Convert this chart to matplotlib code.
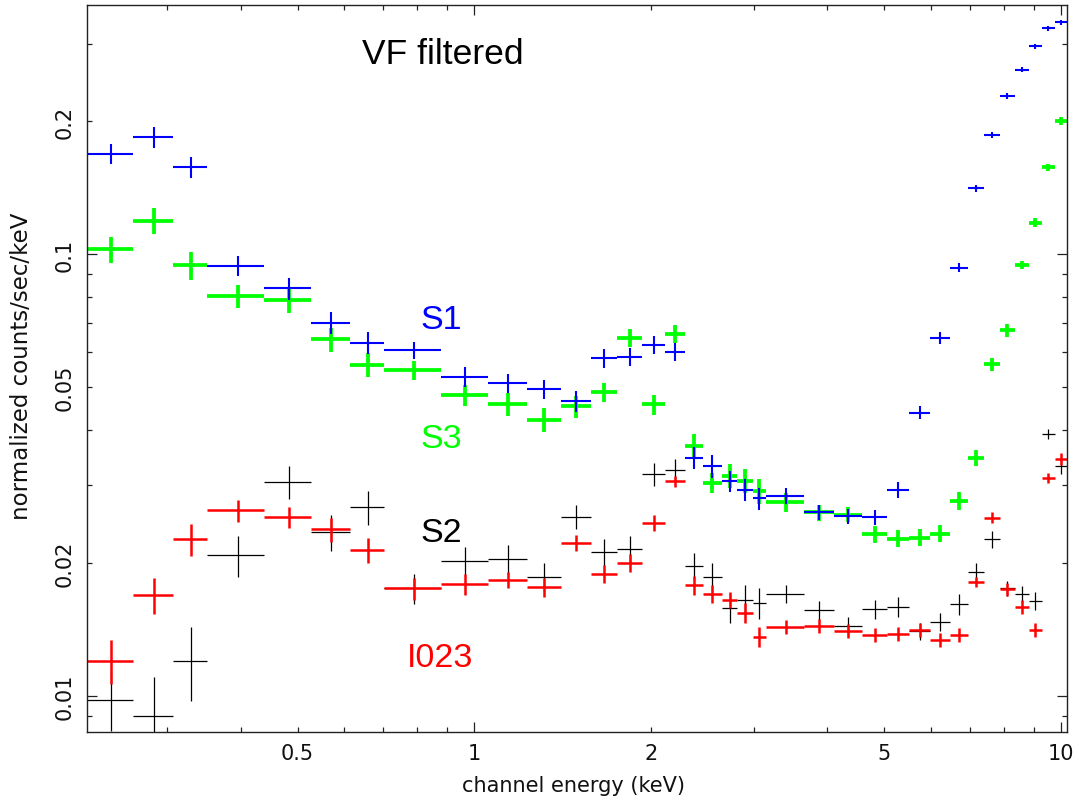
import numpy as np
import matplotlib
matplotlib.use("Agg")
import matplotlib.pyplot as plt

# --- channel grouping (keV bin edges, shared by all four chips) ---
edges = np.array([0.218, 0.262, 0.306, 0.351, 0.439, 0.527, 0.615, 0.703, 0.877,
                  1.055, 1.230, 1.405, 1.581, 1.754, 1.932, 2.114, 2.287, 2.454,
                  2.644, 2.810, 2.986, 3.143, 3.648, 4.105, 4.580, 5.052, 5.508,
                  5.983, 6.471, 6.944, 7.393, 7.874, 8.353, 8.824, 9.286, 9.770,
                  10.24])

# --- normalized counts/sec/keV and 1-sigma errors ---
s1_rate = [0.1688, 0.1839, 0.1575, 0.0941, 0.0837, 0.0700, 0.0631, 0.0606, 0.0527,
           0.0510, 0.0494, 0.0465, 0.0581, 0.0586, 0.0623, 0.0602, 0.0346, 0.0331,
           0.0306, 0.0293, 0.0280, 0.0284, 0.0260, 0.0255, 0.0254, 0.0293, 0.0438,
           0.0645, 0.0933, 0.1411, 0.1864, 0.2286, 0.2618, 0.2958, 0.3249, 0.3352]
s1_err = [0.009, 0.010, 0.009, 0.005, 0.0048, 0.004, 0.0037, 0.0027, 0.0027,
          0.0025, 0.0025, 0.0025, 0.0028, 0.0028, 0.003, 0.0029, 0.0019, 0.0019,
          0.0017, 0.0017, 0.0016, 0.0012, 0.001, 0.001, 0.001, 0.0012, 0.0014,
          0.002, 0.002, 0.0025, 0.0033, 0.0035, 0.0035, 0.004, 0.0045, 0.0045]

s3_rate = [0.1027, 0.1190, 0.0944, 0.0805, 0.0787, 0.0642, 0.0561, 0.0546, 0.0479,
           0.0457, 0.0422, 0.0452, 0.0487, 0.0647, 0.0457, 0.0661, 0.0368, 0.0304,
           0.0315, 0.0307, 0.0291, 0.0274, 0.0260, 0.0257, 0.0232, 0.0227, 0.0228,
           0.0233, 0.0276, 0.0346, 0.0563, 0.0673, 0.0946, 0.1180, 0.1573, 0.2006]
s3_err = [0.007, 0.008, 0.007, 0.0048, 0.005, 0.004, 0.0035, 0.0027, 0.0027,
          0.0028, 0.0026, 0.0026, 0.0025, 0.003, 0.0024, 0.003, 0.0023, 0.0016,
          0.002, 0.0019, 0.0019, 0.0014, 0.0011, 0.001, 0.001, 0.001, 0.001,
          0.001, 0.0013, 0.0014, 0.002, 0.0022, 0.002, 0.0025, 0.003, 0.004]

s2_rate = [0.0098, 0.0090, 0.0120, 0.0208, 0.0305, 0.0235, 0.0267, 0.0175, 0.0202,
           0.0204, 0.0186, 0.0254, 0.0212, 0.0215, 0.0317, 0.0324, 0.0197, 0.0186,
           0.0158, 0.0165, 0.0162, 0.0170, 0.0156, 0.0144, 0.0157, 0.0159, 0.0140,
           0.0147, 0.0161, 0.0191, 0.0226, 0.0175, 0.0170, 0.0164, 0.0392, 0.0332]
s2_err = [0.0015, 0.0020, 0.0023, 0.0022, 0.0026, 0.0022, 0.0024, 0.0014, 0.0015,
          0.0016, 0.0014, 0.0016, 0.0015, 0.0015, 0.0019, 0.0019, 0.0013, 0.0014,
          0.0012, 0.0013, 0.0013, 0.0008, 0.0008, 0.0007, 0.0008, 0.0008, 0.0006,
          0.0007, 0.0009, 0.0009, 0.0010, 0.0007, 0.0007, 0.0008, 0.0010, 0.0014]

i023_rate = [0.0120, 0.0169, 0.0226, 0.0263, 0.0254, 0.0238, 0.0214, 0.0175, 0.0179,
             0.0183, 0.0176, 0.0222, 0.0189, 0.0200, 0.0246, 0.0306, 0.0178, 0.0170,
             0.0165, 0.0154, 0.0136, 0.0143, 0.0144, 0.0140, 0.0137, 0.0138, 0.0141,
             0.0134, 0.0137, 0.0181, 0.0253, 0.0174, 0.0159, 0.0141, 0.0311, 0.0344]
i023_err = [0.0014, 0.0016, 0.0019, 0.0015, 0.0014, 0.0015, 0.0014, 0.0010, 0.0010,
            0.0008, 0.0009, 0.0009, 0.0009, 0.0009, 0.0010, 0.0009, 0.0009, 0.0008,
            0.0007, 0.0008, 0.0007, 0.0005, 0.0005, 0.0005, 0.0005, 0.0005, 0.0005,
            0.0005, 0.0005, 0.0005, 0.0007, 0.0006, 0.0006, 0.0005, 0.0008, 0.0011]

x_major = [1, 10]
x_minor = [0.3, 0.4, 0.5, 0.6, 0.7, 0.8, 0.9, 2, 3, 4, 5, 6, 7, 8, 9]
x_minor_labels = ["", "", "0.5", "", "", "", "", "2", "", "", "5", "", "", "", ""]
y_major = [0.01, 0.1]
y_minor = [0.009, 0.02, 0.03, 0.04, 0.05, 0.06, 0.07, 0.08, 0.09, 0.2, 0.3]
y_minor_labels = ["", "0.02", "", "", "0.05", "", "", "", "", "0.2", ""]

e_lo = edges[:-1]
e_hi = edges[1:]
energy = (e_lo + e_hi) / 2

W, H = 1080, 803
fig = plt.figure(figsize=(W / 100, H / 100), dpi=100)
ax = fig.add_axes([87.3 / W, (H - 733.3) / H, (1066.7 - 87.3) / W, (733.3 - 6) / H])
ax.set_xscale("log")
ax.set_yscale("log")

# drawing order as in the XSPEC plot: S2, I023, S3, S1
series = [(s2_rate, s2_err, "black", 0.9),
          (i023_rate, i023_err, "#ff0000", 1.8),
          (s3_rate, s3_err, "#00ff00", 2.7),
          (s1_rate, s1_err, "#0000ff", 1.5)]
for rate, err, col, lw in series:
    ax.errorbar(energy, rate, xerr=[energy - e_lo, e_hi - energy], yerr=err,
                fmt="none", ecolor=col, elinewidth=lw, capsize=0)

ax.set_xlim(0.219, 10.24)
ax.set_ylim(0.00826, 0.367)

ax.set_xticks(x_major, labels=[str(v) for v in x_major])
ax.set_xticks(x_minor, labels=x_minor_labels, minor=True)
ax.set_yticks(y_major, labels=[str(v) for v in y_major])
ax.set_yticks(y_minor, labels=y_minor_labels, minor=True)

ax.tick_params(which="both", direction="in", top=True, right=True,
               labelsize=15, width=0.9, color="#222222", labelcolor="#111111")
ax.tick_params(which="major", length=7.2)
ax.tick_params(which="minor", length=3.6)
ax.tick_params(axis="x", which="both", pad=8)
ax.tick_params(axis="y", which="both", pad=9, labelrotation=90)
for lab in ax.get_yticklabels(which="both"):
    lab.set_verticalalignment("center")
for sp in ax.spines.values():
    sp.set_linewidth(1.0)
    sp.set_color("#222222")

fig.text(573 / W, 1 - 786 / H, "channel energy (keV)", fontsize=15,
         ha="center", va="center", color="#111111")
fig.text(22 / W, 1 - 366 / H, "normalized counts/sec/keV", fontsize=16.5,
         rotation=90, ha="center", va="center", color="#111111")

lab_font = "Liberation Sans"
fig.text(362 / W, 1 - 64 / H, "VF filtered", fontsize=25.5, family=lab_font,
         va="baseline", color="black")
fig.text(420 / W, 1 - 329 / H, "S1", fontsize=24.5, family=lab_font,
         va="baseline", color="#0000ff")
fig.text(420 / W, 1 - 448 / H, "S3", fontsize=24.5, family=lab_font,
         va="baseline", color="#00ff00")
fig.text(420 / W, 1 - 542 / H, "S2", fontsize=24.5, family=lab_font,
         va="baseline", color="black")
fig.text(407 / W, 1 - 667 / H, "I023", fontsize=24.5, family=lab_font,
         va="baseline", color="#ff0000")

fig.savefig("out.png", dpi=100)
